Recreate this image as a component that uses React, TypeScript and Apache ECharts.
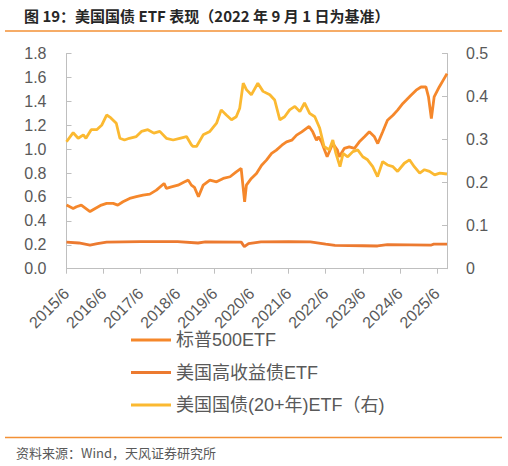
import React, { useEffect, useRef } from "react";
import * as echarts from "echarts";

// X axis tick labels (June of each year)
const tickYears = [2015, 2016, 2017, 2018, 2019, 2020, 2021, 2022, 2023, 2024, 2025];

// 标普500ETF (left axis)
const spxDates = [
  "2015-06-01", "2015-08-06", "2015-09-08", "2015-10-25", "2016-01-20", "2016-03-10", "2016-05-10",
  "2016-07-01", "2016-09-05", "2016-10-20", "2016-12-10", "2017-02-15", "2017-04-20", "2017-06-25",
  "2017-09-01", "2017-11-05", "2018-01-20", "2018-02-12", "2018-04-01", "2018-06-05", "2018-08-10",
  "2018-09-15", "2018-10-15", "2018-11-15", "2018-12-24", "2019-02-10", "2019-04-15", "2019-06-20",
  "2019-08-25", "2019-11-01", "2020-01-01", "2020-02-19", "2020-03-23", "2020-04-10", "2020-05-28",
  "2020-07-18", "2020-09-08", "2020-10-25", "2020-12-15", "2021-02-01", "2021-03-25", "2021-05-10",
  "2021-07-01", "2021-08-18", "2021-10-08", "2021-12-20", "2022-01-25", "2022-03-01", "2022-03-20",
  "2022-04-20", "2022-05-20", "2022-06-15", "2022-08-10", "2022-09-25", "2022-10-12", "2022-12-01",
  "2023-01-20", "2023-03-10", "2023-04-28", "2023-06-18", "2023-08-05", "2023-09-25", "2023-10-27",
  "2023-12-15", "2024-02-01", "2024-03-25", "2024-05-10", "2024-07-01", "2024-08-02", "2024-09-20",
  "2024-11-10", "2024-12-28", "2025-02-15", "2025-03-10", "2025-04-08", "2025-05-05", "2025-06-25",
  "2025-08-12", "2025-09-10",
];
const spxValues = [
  0.532, 0.504, 0.518, 0.532, 0.478, 0.504, 0.532,
  0.546, 0.546, 0.532, 0.56, 0.588, 0.602, 0.616,
  0.624, 0.657, 0.713, 0.672, 0.685, 0.699, 0.727,
  0.741, 0.699, 0.68, 0.602, 0.699, 0.741, 0.727,
  0.755, 0.769, 0.81, 0.839, 0.56, 0.699, 0.755,
  0.797, 0.866, 0.908, 0.964, 0.992, 1.033, 1.061,
  1.075, 1.117, 1.145, 1.19, 1.145, 1.075, 1.103,
  1.061, 0.992, 0.936, 1.047, 0.992, 0.936, 1.006,
  1.019, 1.006, 1.061, 1.103, 1.145, 1.103, 1.047,
  1.145, 1.242, 1.284, 1.326, 1.382, 1.409, 1.451,
  1.493, 1.52, 1.52, 1.437, 1.256, 1.437, 1.52,
  1.59, 1.632,
];

// 美国高收益债ETF (left axis)
const hyDates = [
  "2015-06-01", "2015-10-01", "2016-01-20", "2016-04-01", "2016-07-01", "2017-06-01", "2018-06-01",
  "2018-12-20", "2019-03-01", "2020-02-20", "2020-03-20", "2020-05-01", "2020-09-01", "2021-06-01",
  "2022-01-01", "2022-06-01", "2022-09-01", "2023-06-01", "2023-10-25", "2024-02-01", "2025-04-08",
  "2025-05-01", "2025-09-10",
];
const hyValues = [
  0.222, 0.215, 0.198, 0.21, 0.222, 0.226, 0.226,
  0.215, 0.224, 0.222, 0.184, 0.21, 0.224, 0.226,
  0.224, 0.205, 0.195, 0.192, 0.19, 0.202, 0.198,
  0.205, 0.206,
];

// 美国国债(20+年)ETF (right axis)
const tltDates = [
  "2015-06-01", "2015-08-06", "2015-09-25", "2015-11-15", "2015-12-10", "2016-02-01", "2016-03-25",
  "2016-05-15", "2016-07-01", "2016-08-10", "2016-10-05", "2016-11-10", "2016-12-25", "2017-02-12",
  "2017-04-20", "2017-06-10", "2017-08-12", "2017-10-10", "2017-12-08", "2018-02-12", "2018-04-18",
  "2018-06-22", "2018-08-28", "2018-10-15", "2018-11-01", "2018-12-05", "2019-02-10", "2019-04-15",
  "2019-06-20", "2019-08-05", "2019-09-25", "2019-11-15", "2020-01-01", "2020-02-05", "2020-03-09",
  "2020-04-10", "2020-05-28", "2020-08-01", "2020-09-22", "2020-11-28", "2021-01-15", "2021-03-05",
  "2021-04-22", "2021-06-10", "2021-08-01", "2021-09-20", "2021-11-05", "2021-12-25", "2022-02-15",
  "2022-04-02", "2022-05-15", "2022-07-05", "2022-08-10", "2022-09-10", "2022-10-20", "2022-11-20",
  "2023-01-05", "2023-02-25", "2023-04-12", "2023-06-01", "2023-07-18", "2023-09-08", "2023-10-25",
  "2023-12-15", "2024-02-01", "2024-03-25", "2024-05-10", "2024-07-15", "2024-09-05", "2024-10-22",
  "2024-12-15", "2025-02-01", "2025-03-20", "2025-05-10", "2025-06-30", "2025-09-10",
];
const tltValues = [
  0.295, 0.316, 0.303, 0.311, 0.303, 0.323, 0.323,
  0.334, 0.357, 0.351, 0.338, 0.303, 0.299, 0.303,
  0.307, 0.319, 0.323, 0.315, 0.319, 0.303, 0.299,
  0.303, 0.307, 0.288, 0.284, 0.284, 0.311, 0.319,
  0.338, 0.369, 0.357, 0.346, 0.353, 0.373, 0.431,
  0.416, 0.404, 0.431, 0.412, 0.404, 0.392, 0.346,
  0.353, 0.369, 0.377, 0.365, 0.385, 0.361, 0.353,
  0.327, 0.284, 0.276, 0.299, 0.268, 0.237, 0.268,
  0.26, 0.272, 0.276, 0.26, 0.253, 0.237, 0.214,
  0.249, 0.241, 0.237, 0.226, 0.245, 0.253, 0.237,
  0.222, 0.23, 0.226, 0.218, 0.222, 0.22,
];

const seriesNames = ["标普500ETF", "美国高收益债ETF", "美国国债(20+年)ETF（右)"];
const seriesColors = ["#F5872B", "#EC7A30", "#FBB931"];

function toX(d: string): number {
  const [y, m, dd] = d.split("-").map(Number);
  return y - 2015 + (m - 6) / 12 + (dd - 1) / 365;
}

function pairs(dates: string[], values: number[]) {
  return dates.map((d, i) => [toX(d), values[i]]);
}

export default function App() {
  const ref = useRef<HTMLDivElement>(null);

  useEffect(() => {
    if (!ref.current) return;
    const chart = echarts.init(ref.current, undefined, { renderer: "svg" });
    const tickVals = tickYears.map((y) => y - 2015);
    const xMax = toX(spxDates[spxDates.length - 1]);
    const font = "Liberation Sans, Arial, Noto Sans CJK SC, sans-serif";
    const axisGray = "#BFBFBF";
    const labelGray = "#595959";

    chart.setOption({
      animation: false,
      backgroundColor: "#ffffff",
      textStyle: { fontFamily: font },
      grid: { left: 66.5, right: 61, top: 53.5, bottom: 197.3, containLabel: false },
      legend: {
        orient: "vertical",
        left: 126,
        top: 325,
        icon: "rect",
        itemWidth: 40,
        itemHeight: 3,
        itemGap: 12.5,
        itemStyle: { borderWidth: 0 },
        textStyle: { fontSize: 18, color: labelGray, lineHeight: 20, fontFamily: font },
        data: seriesNames,
      },
      xAxis: {
        type: "value",
        min: 0,
        max: xMax,
        interval: 1,
        splitLine: { show: false },
        axisLine: { show: true, lineStyle: { color: axisGray, width: 1 } },
        axisTick: { show: true, inside: false, length: 5, lineStyle: { color: axisGray }, customValues: tickVals },
        axisLabel: {
          customValues: tickVals,
          rotate: 45,
          margin: 22,
          fontSize: 16,
          color: labelGray,
          fontFamily: font,
          formatter: (v: number) => `${2015 + Math.round(v)}/6`,
        },
      },
      yAxis: [
        {
          type: "value",
          position: "left",
          min: 0,
          max: 1.8,
          interval: 0.2,
          splitLine: { show: false },
          axisLine: { show: true, lineStyle: { color: axisGray, width: 1 } },
          axisTick: { show: true, inside: true, length: 5, lineStyle: { color: axisGray } },
          axisLabel: {
            margin: 20,
            fontSize: 16,
            color: labelGray,
            fontFamily: font,
            padding: [4, 0, 0, 0],
            formatter: (v: number) => v.toFixed(1),
          },
        },
        {
          type: "value",
          position: "right",
          min: 0,
          max: 0.5,
          interval: 0.1,
          splitLine: { show: false },
          axisLine: { show: true, lineStyle: { color: axisGray, width: 1 } },
          axisTick: { show: true, inside: true, length: 5, lineStyle: { color: axisGray } },
          axisLabel: {
            margin: 19,
            fontSize: 16,
            color: labelGray,
            fontFamily: font,
            padding: [4, 0, 0, 0],
            formatter: (v: number) => String(+v.toFixed(1)),
          },
        },
      ],
      series: [
        {
          name: seriesNames[0],
          type: "line",
          yAxisIndex: 0,
          symbol: "none",
          showSymbol: false,
          color: seriesColors[0],
          lineStyle: { width: 2.8, color: seriesColors[0] },
          data: pairs(spxDates, spxValues),
        },
        {
          name: seriesNames[1],
          type: "line",
          yAxisIndex: 0,
          symbol: "none",
          showSymbol: false,
          color: seriesColors[1],
          lineStyle: { width: 2.8, color: seriesColors[1] },
          data: pairs(hyDates, hyValues),
        },
        {
          name: seriesNames[2],
          type: "line",
          yAxisIndex: 1,
          symbol: "none",
          showSymbol: false,
          color: seriesColors[2],
          lineStyle: { width: 2.8, color: seriesColors[2] },
          data: pairs(tltDates, tltValues),
        },
      ],
      graphic: [
        {
          type: "text",
          left: 24,
          top: 8,
          style: {
            text: "图 19：美国国债 ETF 表现（2022 年 9 月 1 日为基准）",
            fontSize: 15,
            fontWeight: "bold",
            fill: "#262626",
            fontFamily: "Noto Sans CJK SC, sans-serif",
          },
        },
        {
          type: "line",
          shape: { x1: 5, y1: 31, x2: 502, y2: 31 },
          style: { stroke: "#F39135", lineWidth: 1.5 },
        },
        {
          type: "line",
          shape: { x1: 5, y1: 437.5, x2: 502, y2: 437.5 },
          style: { stroke: "#F39135", lineWidth: 1.5 },
        },
        {
          type: "text",
          left: 16,
          top: 446,
          style: {
            text: "资料来源：Wind，天风证券研究所",
            fontSize: 13,
            fill: "#595959",
            fontFamily: "Noto Sans CJK SC, sans-serif",
          },
        },
      ],
    });

    return () => chart.dispose();
  }, []);

  return (
    <div
      ref={ref}
      style={{ position: "absolute", left: 0, top: 0, width: 508, height: 466 }}
    />
  );
}
